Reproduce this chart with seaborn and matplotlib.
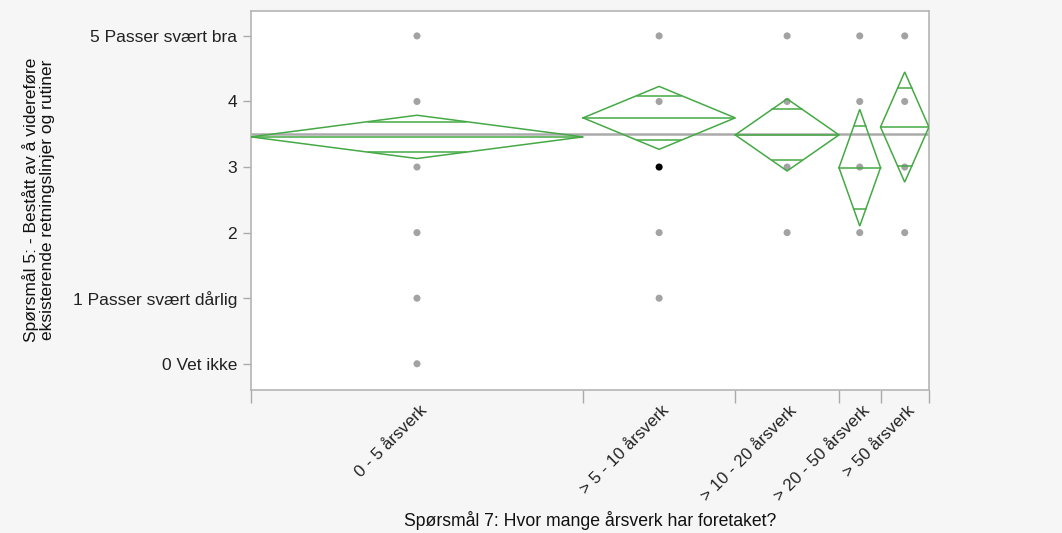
import numpy as np
import pandas as pd
import matplotlib
matplotlib.use("Agg")
import matplotlib.pyplot as plt
import matplotlib.transforms as mtransforms
import seaborn as sns

# Groups (number of employees) with their sizes, means and 95% CI half-widths
categories = ["0 - 5 årsverk", "> 5 - 10 årsverk", "> 10 - 20 årsverk",
              "> 20 - 50 årsverk", "> 50 årsverk"]
group_n = [48, 22, 15, 6, 7]
group_mean = [3.46, 3.75, 3.49, 2.99, 3.61]
group_ci = [0.33, 0.48, 0.55, 0.89, 0.84]
grand_mean = 3.51

# Distinct response values observed in each group
observed = [
    [5, 4, 3, 2, 1, 0],
    [5, 4, 3, 2, 1],
    [5, 4, 3, 2],
    [5, 4, 3, 2],
    [5, 4, 3, 2],
]
# Highlighted row: (group index, value)
highlight = (1, 3)

y_ticks = [0, 1, 2, 3, 4, 5]
y_ticklabels = ["0 Vet ikke", "1 Passer svært dårlig", "2", "3", "4",
                "5 Passer svært bra"]
x_title = "Spørsmål 7: Hvor mange årsverk har foretaket?"
y_title = "Spørsmål 5: - Bestått av å videreføre\neksisterende retningslinjer og rutiner"

sns.set_theme(style="white")
plt.rcParams["font.family"] = ["Liberation Sans", "DejaVu Sans"]

GREEN = "#45a945"
BG = "#f6f6f6"

fig = plt.figure(figsize=(10.62, 5.33), dpi=100, facecolor=BG)
ax = fig.add_axes([0.2363, 0.2683, 0.6384, 0.7111])
ax.set_facecolor("white")

# Group widths proportional to group sizes
edges = np.concatenate([[0], np.cumsum(group_n)]).astype(float)
centers = (edges[:-1] + edges[1:]) / 2

rows = []
for gi, vals in enumerate(observed):
    for v in vals:
        sel = (gi, v) == highlight
        rows.append({"x": centers[gi], "y": v, "sel": "sel" if sel else "normal"})
pts = pd.DataFrame(rows)

# Grand mean line
ax.axhline(grand_mean, color="#aaaaaa", lw=1.8, zorder=1)

sns.scatterplot(data=pts, x="x", y="y", hue="sel",
                palette={"normal": "#a3a3a3", "sel": "#000000"},
                s=26, edgecolor="none", legend=False, ax=ax, zorder=3)

# Means diamonds with overlap marks
k = 1 / np.sqrt(2)
for gi in range(len(categories)):
    l, r, c = edges[gi], edges[gi + 1], centers[gi]
    m, h = group_mean[gi], group_ci[gi]
    ax.plot([l, c, r, c, l], [m, m + h, m, m - h, m], color=GREEN, lw=1.1,
            zorder=4, solid_joinstyle="miter")
    ax.plot([l, r], [m, m], color=GREEN, lw=1.1, zorder=4)
    half = (r - l) / 2 * (1 - k)
    for s in (1, -1):
        ax.plot([c - half, c + half], [m + s * h * k, m + s * h * k],
                color=GREEN, lw=1.1, zorder=4)

ax.set_xlim(edges[0], edges[-1])
ax.set_ylim(-0.40, 5.38)

ax.set_yticks(y_ticks)
ax.set_yticklabels(y_ticklabels, fontsize=12.5, color="#222222")
ax.tick_params(axis="y", direction="out", length=6, width=1, color="#aaaaaa",
               left=True, pad=4)

ax.set_xticks(edges)
ax.set_xticklabels([])
ax.tick_params(axis="x", direction="out", length=9, width=1, color="#aaaaaa",
               bottom=True)

# Rotated category labels at group centres
off = mtransforms.ScaledTranslation(0.02, -0.13, fig.dpi_scale_trans)
trans = mtransforms.blended_transform_factory(ax.transData, ax.transAxes) + off
for c, lab in zip(centers, categories):
    ax.text(c, 0, lab, transform=trans, rotation=45, rotation_mode="anchor",
            ha="right", va="top", fontsize=12.2, color="#222222")

for side in ["left", "right", "top", "bottom"]:
    ax.spines[side].set_visible(True)
    ax.spines[side].set_color("#b5b5b5")
    ax.spines[side].set_linewidth(1.2)

ax.set_xlabel("")
ax.set_ylabel("")
fig.text(0.5555, 1 - 520 / 533, x_title, ha="center", va="center",
         fontsize=12.7, color="#111111")
fig.text(0.0365, 0.625, y_title, ha="center", va="center", rotation=90,
         fontsize=12.5, color="#111111", linespacing=1.1)

fig.savefig("out.png", dpi=100, facecolor=BG)
